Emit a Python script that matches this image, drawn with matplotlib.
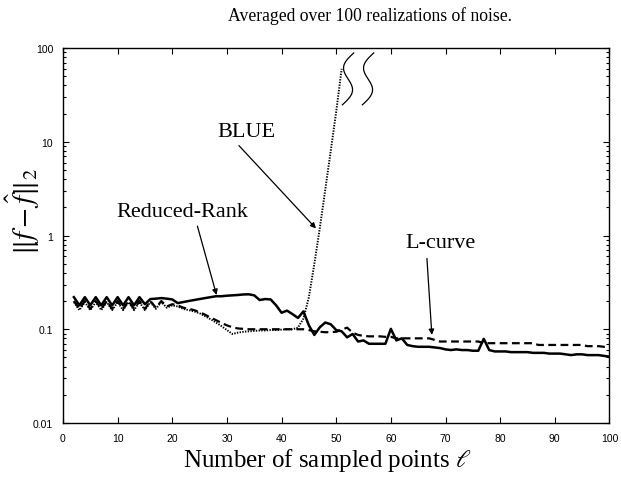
import numpy as np
import matplotlib
matplotlib.use("Agg")
import matplotlib.pyplot as plt
from matplotlib.ticker import FixedLocator, FixedFormatter, LogLocator, NullFormatter

plt.rcParams['mathtext.fontset'] = 'stix'

# number of sampled points
x_all = list(range(2, 101))
x_blue = list(range(2, 52))

# Reduced-Rank (solid)
reduced_rank = [0.22, 0.18, 0.22, 0.18, 0.22, 0.18, 0.22, 0.18, 0.22, 0.18,      # 2-11
                0.22, 0.18, 0.22, 0.185, 0.21, 0.212, 0.215, 0.212, 0.208, 0.19,  # 12-21
                0.195, 0.2, 0.205, 0.21, 0.215, 0.22, 0.225, 0.225, 0.228, 0.23,  # 22-31
                0.232, 0.235, 0.236, 0.23, 0.205, 0.21, 0.208, 0.18, 0.15, 0.158, # 32-41
                0.145, 0.132, 0.155, 0.11, 0.087, 0.105, 0.118, 0.113, 0.098, 0.095,  # 42-51
                0.082, 0.089, 0.074, 0.076, 0.070, 0.070, 0.070, 0.070, 0.101, 0.076,  # 52-61
                0.080, 0.068, 0.066, 0.065, 0.065, 0.065, 0.064, 0.063, 0.061, 0.060,  # 62-71
                0.061, 0.060, 0.060, 0.059, 0.059, 0.079, 0.060, 0.058, 0.058, 0.058,  # 72-81
                0.057, 0.057, 0.057, 0.057, 0.056, 0.056, 0.056, 0.055, 0.055, 0.055,  # 82-91
                0.054, 0.053, 0.054, 0.054, 0.053, 0.053, 0.053, 0.052, 0.051]         # 92-100

# L-curve (dashed)
l_curve = [0.20, 0.165, 0.20, 0.165, 0.20, 0.165, 0.20, 0.165, 0.20, 0.165,     # 2-11
           0.20, 0.165, 0.20, 0.165, 0.20, 0.17, 0.20, 0.175, 0.185, 0.18,      # 12-21
           0.17, 0.165, 0.16, 0.152, 0.143, 0.133, 0.125, 0.117, 0.11, 0.105,   # 22-31
           0.102, 0.101, 0.100, 0.100, 0.100, 0.100, 0.100, 0.100, 0.100, 0.100, # 32-41
           0.100, 0.100, 0.100, 0.098, 0.095, 0.094, 0.093, 0.093, 0.094, 0.099, # 42-51
           0.104, 0.092, 0.087, 0.085, 0.084, 0.084, 0.084, 0.083, 0.083, 0.080, # 52-61
           0.080, 0.080, 0.080, 0.080, 0.080, 0.080, 0.077, 0.074, 0.074, 0.074, # 62-71
           0.074, 0.074, 0.074, 0.074, 0.074, 0.071, 0.071, 0.071, 0.071, 0.071, # 72-81
           0.071, 0.071, 0.071, 0.071, 0.071, 0.068, 0.068, 0.068, 0.068, 0.068, # 82-91
           0.068, 0.068, 0.068, 0.068, 0.066, 0.066, 0.066, 0.065, 0.065]        # 92-100

# BLUE (dotted)
blue = [0.195, 0.16, 0.195, 0.16, 0.195, 0.16, 0.195, 0.16, 0.195, 0.16,     # 2-11
        0.195, 0.16, 0.195, 0.16, 0.195, 0.165, 0.195, 0.17, 0.18, 0.175,    # 12-21
        0.165, 0.16, 0.155, 0.148, 0.138, 0.128, 0.118, 0.108, 0.098, 0.089, # 22-31
        0.092, 0.094, 0.095, 0.096, 0.097, 0.097, 0.098, 0.098, 0.099, 0.100, # 32-41
        0.100, 0.104, 0.13, 0.22, 0.5, 1.2, 3.1, 8.0, 21.0, 60.0]            # 42-51

fig = plt.figure(figsize=(6.21, 4.81), dpi=100)
ax = fig.add_axes([0.1014, 0.1185, 0.880, 0.7796])

ax.plot(x_all, reduced_rank, color='black', lw=1.8, ls='-')
ax.plot(x_all, l_curve, color='black', lw=1.6, ls=(0, (3.5, 2)))
ax.plot(x_blue, blue, color='black', lw=1.4, ls=(0, (0.7, 0.7)))

ax.set_yscale('log')
ax.set_xlim(0, 100)
ax.set_ylim(0.01, 100)

ax.set_xticks(range(0, 101, 10))
ax.yaxis.set_major_locator(FixedLocator([0.01, 0.1, 1, 10, 100]))
ax.yaxis.set_major_formatter(FixedFormatter(['0.01', '0.1', '1', '10', '100']))
ax.yaxis.set_minor_locator(LogLocator(base=10, subs=np.arange(2, 10)))
ax.yaxis.set_minor_formatter(NullFormatter())

ax.tick_params(which='both', direction='in', top=True, right=True,
               labelsize=7.5, width=0.8)
ax.tick_params(which='major', length=4)
ax.tick_params(which='minor', length=2)
ax.tick_params(axis='x', pad=7)
ax.tick_params(axis='y', pad=7)
for lab in ax.get_xticklabels() + ax.get_yticklabels():
    lab.set_family('Liberation Sans')
for sp in ax.spines.values():
    sp.set_linewidth(1.0)

serif = 'Liberation Serif'
arrow = dict(arrowstyle='-|>', color='black', lw=0.9, mutation_scale=8,
             shrinkA=0, shrinkB=0)
ax.annotate('', xy=(46.3, 1.19), xytext=(32.2, 9.1), arrowprops=arrow)
ax.text(33.6, 12.8, 'BLUE', family=serif, fontsize=16, ha='center', va='center')
ax.annotate('', xy=(28.1, 0.232), xytext=(24.6, 1.26), arrowprops=arrow)
ax.text(21.9, 1.8, 'Reduced-Rank', family=serif, fontsize=16, ha='center', va='center')
ax.annotate('', xy=(67.5, 0.087), xytext=(66.6, 0.57), arrowprops=arrow)
ax.text(69.0, 0.84, 'L-curve', family=serif, fontsize=16, ha='center', va='center')

# axis break marks above the BLUE curve
t = np.linspace(0, 1, 60)
for shift in (0.0, 3.66):
    xs = 53.2 - 2.07 * t + shift - 1.3 * np.sin(2 * np.pi * t)
    ys = 10 ** (1.947 - 0.553 * t)
    ax.plot(xs, ys, color='black', lw=0.9, clip_on=False)

fig.text(370 / 621, 1 - 16 / 481, 'Averaged over 100 realizations of noise.',
         family=serif, fontsize=12.7, ha='center', va='center')
fig.text(327 / 621, 1 - 460 / 481, r'Number of sampled points $\ell$',
         family=serif, fontsize=18, ha='center', va='center')
fig.text(23 / 621, 1 - 211 / 481, r'$\|f-\hat{f}\|_2$', fontsize=21,
         rotation=90, ha='center', va='center')

fig.savefig('out.png', dpi=100)
